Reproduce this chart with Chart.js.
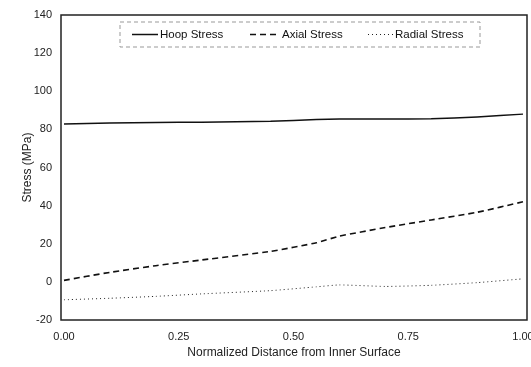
<!DOCTYPE html>
<html>
<head>
<meta charset="utf-8">
<script src="https://cdn.jsdelivr.net/npm/chart.js@4.4.0/dist/chart.umd.min.js"></script>
<style>
  html, body { margin: 0; padding: 0; background: #fff; }
  #caja { width: 531px; height: 367px; }
</style>
</head>
<body>
<div id="caja"><canvas id="chart"></canvas></div>
<script>
// DATOS DE LA GRAFICA
var distancia = [0, 0.1, 0.2, 0.3, 0.45, 0.55, 0.6, 0.7, 0.8, 0.9, 1.0];
var hoop = [82.8, 83.3, 83.6, 83.8, 84.2, 85.2, 85.5, 85.4, 85.6, 86.5, 88];
var axial = [0.8, 5, 8.5, 11.5, 16, 20.5, 24, 28.5, 32.5, 36.5, 42];
var radial = [-9.4, -8.6, -7.6, -6.3, -4.6, -2.6, -1.6, -2.4, -1.8, -0.4, 1.6];
var nombres = ['Hoop Stress', 'Axial Stress', 'Radial Stress'];
var ticksX = [0, 0.25, 0.5, 0.75, 1];

function puntos(valores) {
    return distancia.map(function (d, i) { return { x: d, y: valores[i] }; });
}

var fuente = 'Liberation Sans, Arial, sans-serif';

// marco completo alrededor del area + leyenda dentro
var marcoYLeyenda = {
    id: 'marcoYLeyenda',
    afterDraw: function (chart) {
        var c = chart.ctx;
        var a = chart.chartArea;
        c.save();
        c.strokeStyle = '#222';
        c.lineWidth = 1.5;
        c.setLineDash([]);
        c.strokeRect(a.left, a.top, a.right - a.left, a.bottom - a.top);

        // caja de la leyenda
        var bx = a.left + 59, by = a.top + 7, bw = 360, bh = 25;
        c.strokeStyle = '#999';
        c.lineWidth = 1;
        c.setLineDash([4, 3]);
        c.strokeRect(bx, by, bw, bh);

        var cy = by + bh / 2;
        var muestras = [bx + 12, bx + 130, bx + 248];
        var largos = [26, 30, 25];
        c.font = '11.5px ' + fuente;
        c.fillStyle = '#111';
        c.textBaseline = 'middle';
        chart.data.datasets.forEach(function (ds, i) {
            c.strokeStyle = ds.borderColor;
            c.lineWidth = ds.borderWidth;
            c.setLineDash(ds.borderDash || []);
            c.beginPath();
            c.moveTo(muestras[i], cy);
            c.lineTo(muestras[i] + largos[i], cy);
            c.stroke();
            c.fillText(ds.label, muestras[i] + largos[i] + 2, cy);
        });
        c.restore();
    }
};

var ctx = document.getElementById('chart');
var miGrafica = new Chart(ctx, {
    type: 'line',
    data: {
        datasets: [
            {
                label: nombres[0],
                data: puntos(hoop),
                borderColor: '#111',
                borderWidth: 1.5,
                pointRadius: 0,
                tension: 0.15
            },
            {
                label: nombres[1],
                data: puntos(axial),
                borderColor: '#111',
                borderWidth: 1.6,
                borderDash: [6, 4],
                pointRadius: 0,
                tension: 0.15
            },
            {
                label: nombres[2],
                data: puntos(radial),
                borderColor: '#222',
                borderWidth: 1,
                borderDash: [1, 3],
                pointRadius: 0,
                tension: 0.15
            }
        ]
    },
    options: {
        responsive: true,
        maintainAspectRatio: false,
        animation: false,
        layout: { padding: { top: 15, right: 4, left: 0, bottom: 0 } },
        plugins: {
            legend: { display: false },
            tooltip: { enabled: false }
        },
        scales: {
            x: {
                type: 'linear',
                min: -0.0065,
                max: 1.0087,
                afterBuildTicks: function (s) {
                    s.ticks = ticksX.map(function (v) { return { value: v }; });
                },
                afterFit: function (s) {
                    s.height = 47;
                    s.paddingLeft = 0;
                    s.paddingRight = 0;
                },
                grid: { display: false, drawTicks: false },
                border: { display: false },
                ticks: {
                    padding: 10,
                    color: '#222',
                    maxRotation: 0,
                    font: { family: fuente, size: 11 },
                    callback: function (v) { return v.toFixed(2); }
                },
                title: {
                    display: true,
                    text: 'Normalized Distance from Inner Surface',
                    color: '#222',
                    padding: { top: 0, bottom: 7 },
                    font: { family: fuente, size: 12 }
                }
            },
            y: {
                min: -20,
                max: 140,
                afterFit: function (s) {
                    s.width = 61;
                    s.paddingTop = 0;
                    s.paddingBottom = 0;
                },
                grid: { display: false, drawTicks: false },
                border: { display: false },
                ticks: {
                    stepSize: 20,
                    padding: 9,
                    color: '#222',
                    font: { family: fuente, size: 11 }
                },
                title: {
                    display: true,
                    text: 'Stress (MPa)',
                    color: '#222',
                    padding: { top: 20, bottom: 0 },
                    font: { family: fuente, size: 12 }
                }
            }
        }
    },
    plugins: [marcoYLeyenda]
});
</script>
</body>
</html>
